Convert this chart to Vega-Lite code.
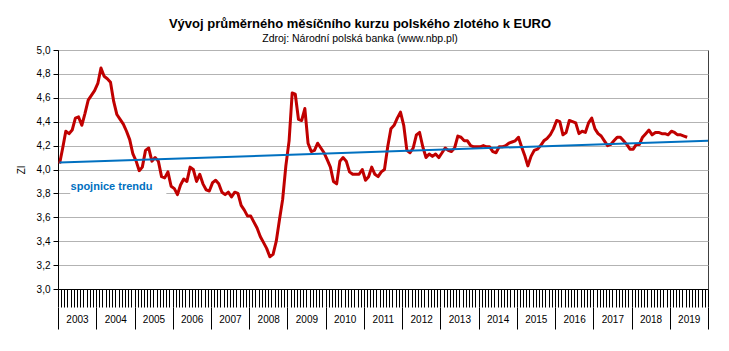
{
  "$schema": "https://vega.github.io/schema/vega-lite/v6.json",
  "width": 650,
  "height": 239,
  "autosize": {"type": "none"},
  "padding": {"left": 58, "top": 50, "right": 21, "bottom": 62},
  "background": "white",
  "title": {
    "text": "Vývoj průměrného měsíčního kurzu polského zlotého k EURO",
    "subtitle": "Zdroj: Národní polská banka (www.nbp.pl)",
    "font": "Liberation Sans", "fontSize": 13, "fontWeight": "bold", "color": "black",
    "subtitleFont": "Liberation Sans", "subtitleFontSize": 10.5, "subtitleColor": "black",
    "anchor": "middle", "frame": "group", "dx": -23, "offset": 1, "subtitlePadding": 3
  },
  "config": {
    "view": {"stroke": "#404040", "strokeWidth": 1},
    "axis": {"labelFont": "Liberation Sans", "titleFont": "Liberation Sans", "labelColor": "black", "titleColor": "black"}
  },
  "data": {
    "format": {"parse": {"mesic": "date"}},
    "values": [
      {"mesic": "2003-01", "kurz": 4.05}, {"mesic": "2003-02", "kurz": 4.18}, {"mesic": "2003-03", "kurz": 4.32}, {"mesic": "2003-04", "kurz": 4.30},
      {"mesic": "2003-05", "kurz": 4.33}, {"mesic": "2003-06", "kurz": 4.43}, {"mesic": "2003-07", "kurz": 4.44}, {"mesic": "2003-08", "kurz": 4.37},
      {"mesic": "2003-09", "kurz": 4.47}, {"mesic": "2003-10", "kurz": 4.58}, {"mesic": "2003-11", "kurz": 4.62}, {"mesic": "2003-12", "kurz": 4.66},
      {"mesic": "2004-01", "kurz": 4.72}, {"mesic": "2004-02", "kurz": 4.85}, {"mesic": "2004-03", "kurz": 4.78}, {"mesic": "2004-04", "kurz": 4.76},
      {"mesic": "2004-05", "kurz": 4.73}, {"mesic": "2004-06", "kurz": 4.57}, {"mesic": "2004-07", "kurz": 4.46}, {"mesic": "2004-08", "kurz": 4.42},
      {"mesic": "2004-09", "kurz": 4.38}, {"mesic": "2004-10", "kurz": 4.32}, {"mesic": "2004-11", "kurz": 4.25}, {"mesic": "2004-12", "kurz": 4.13},
      {"mesic": "2005-01", "kurz": 4.07}, {"mesic": "2005-02", "kurz": 3.99}, {"mesic": "2005-03", "kurz": 4.02}, {"mesic": "2005-04", "kurz": 4.16},
      {"mesic": "2005-05", "kurz": 4.18}, {"mesic": "2005-06", "kurz": 4.07}, {"mesic": "2005-07", "kurz": 4.10}, {"mesic": "2005-08", "kurz": 4.07},
      {"mesic": "2005-09", "kurz": 3.94}, {"mesic": "2005-10", "kurz": 3.93}, {"mesic": "2005-11", "kurz": 3.98}, {"mesic": "2005-12", "kurz": 3.86},
      {"mesic": "2006-01", "kurz": 3.84}, {"mesic": "2006-02", "kurz": 3.79}, {"mesic": "2006-03", "kurz": 3.87}, {"mesic": "2006-04", "kurz": 3.92},
      {"mesic": "2006-05", "kurz": 3.90}, {"mesic": "2006-06", "kurz": 4.02}, {"mesic": "2006-07", "kurz": 4.00}, {"mesic": "2006-08", "kurz": 3.90},
      {"mesic": "2006-09", "kurz": 3.96}, {"mesic": "2006-10", "kurz": 3.88}, {"mesic": "2006-11", "kurz": 3.83}, {"mesic": "2006-12", "kurz": 3.82},
      {"mesic": "2007-01", "kurz": 3.89}, {"mesic": "2007-02", "kurz": 3.91}, {"mesic": "2007-03", "kurz": 3.88}, {"mesic": "2007-04", "kurz": 3.81},
      {"mesic": "2007-05", "kurz": 3.79}, {"mesic": "2007-06", "kurz": 3.81}, {"mesic": "2007-07", "kurz": 3.77}, {"mesic": "2007-08", "kurz": 3.81},
      {"mesic": "2007-09", "kurz": 3.80}, {"mesic": "2007-10", "kurz": 3.70}, {"mesic": "2007-11", "kurz": 3.66}, {"mesic": "2007-12", "kurz": 3.61},
      {"mesic": "2008-01", "kurz": 3.61}, {"mesic": "2008-02", "kurz": 3.56}, {"mesic": "2008-03", "kurz": 3.51}, {"mesic": "2008-04", "kurz": 3.44},
      {"mesic": "2008-05", "kurz": 3.39}, {"mesic": "2008-06", "kurz": 3.34}, {"mesic": "2008-07", "kurz": 3.27}, {"mesic": "2008-08", "kurz": 3.29},
      {"mesic": "2008-09", "kurz": 3.40}, {"mesic": "2008-10", "kurz": 3.58}, {"mesic": "2008-11", "kurz": 3.75}, {"mesic": "2008-12", "kurz": 4.03},
      {"mesic": "2009-01", "kurz": 4.24}, {"mesic": "2009-02", "kurz": 4.64}, {"mesic": "2009-03", "kurz": 4.63}, {"mesic": "2009-04", "kurz": 4.42},
      {"mesic": "2009-05", "kurz": 4.41}, {"mesic": "2009-06", "kurz": 4.51}, {"mesic": "2009-07", "kurz": 4.22}, {"mesic": "2009-08", "kurz": 4.15},
      {"mesic": "2009-09", "kurz": 4.16}, {"mesic": "2009-10", "kurz": 4.22}, {"mesic": "2009-11", "kurz": 4.18}, {"mesic": "2009-12", "kurz": 4.14},
      {"mesic": "2010-01", "kurz": 4.08}, {"mesic": "2010-02", "kurz": 4.02}, {"mesic": "2010-03", "kurz": 3.90}, {"mesic": "2010-04", "kurz": 3.88},
      {"mesic": "2010-05", "kurz": 4.07}, {"mesic": "2010-06", "kurz": 4.10}, {"mesic": "2010-07", "kurz": 4.07}, {"mesic": "2010-08", "kurz": 3.98},
      {"mesic": "2010-09", "kurz": 3.96}, {"mesic": "2010-10", "kurz": 3.96}, {"mesic": "2010-11", "kurz": 3.96}, {"mesic": "2010-12", "kurz": 4.00},
      {"mesic": "2011-01", "kurz": 3.91}, {"mesic": "2011-02", "kurz": 3.94}, {"mesic": "2011-03", "kurz": 4.02}, {"mesic": "2011-04", "kurz": 3.96},
      {"mesic": "2011-05", "kurz": 3.94}, {"mesic": "2011-06", "kurz": 3.98}, {"mesic": "2011-07", "kurz": 4.00}, {"mesic": "2011-08", "kurz": 4.19},
      {"mesic": "2011-09", "kurz": 4.34}, {"mesic": "2011-10", "kurz": 4.37}, {"mesic": "2011-11", "kurz": 4.43}, {"mesic": "2011-12", "kurz": 4.48},
      {"mesic": "2012-01", "kurz": 4.37}, {"mesic": "2012-02", "kurz": 4.16}, {"mesic": "2012-03", "kurz": 4.14}, {"mesic": "2012-04", "kurz": 4.18},
      {"mesic": "2012-05", "kurz": 4.29}, {"mesic": "2012-06", "kurz": 4.31}, {"mesic": "2012-07", "kurz": 4.19}, {"mesic": "2012-08", "kurz": 4.10},
      {"mesic": "2012-09", "kurz": 4.13}, {"mesic": "2012-10", "kurz": 4.11}, {"mesic": "2012-11", "kurz": 4.13}, {"mesic": "2012-12", "kurz": 4.10},
      {"mesic": "2013-01", "kurz": 4.14}, {"mesic": "2013-02", "kurz": 4.18}, {"mesic": "2013-03", "kurz": 4.16}, {"mesic": "2013-04", "kurz": 4.15},
      {"mesic": "2013-05", "kurz": 4.18}, {"mesic": "2013-06", "kurz": 4.28}, {"mesic": "2013-07", "kurz": 4.27}, {"mesic": "2013-08", "kurz": 4.24},
      {"mesic": "2013-09", "kurz": 4.24}, {"mesic": "2013-10", "kurz": 4.20}, {"mesic": "2013-11", "kurz": 4.19}, {"mesic": "2013-12", "kurz": 4.19},
      {"mesic": "2014-01", "kurz": 4.19}, {"mesic": "2014-02", "kurz": 4.20}, {"mesic": "2014-03", "kurz": 4.19}, {"mesic": "2014-04", "kurz": 4.19},
      {"mesic": "2014-05", "kurz": 4.15}, {"mesic": "2014-06", "kurz": 4.14}, {"mesic": "2014-07", "kurz": 4.19}, {"mesic": "2014-08", "kurz": 4.19},
      {"mesic": "2014-09", "kurz": 4.20}, {"mesic": "2014-10", "kurz": 4.22}, {"mesic": "2014-11", "kurz": 4.23}, {"mesic": "2014-12", "kurz": 4.24},
      {"mesic": "2015-01", "kurz": 4.27}, {"mesic": "2015-02", "kurz": 4.19}, {"mesic": "2015-03", "kurz": 4.12}, {"mesic": "2015-04", "kurz": 4.03},
      {"mesic": "2015-05", "kurz": 4.11}, {"mesic": "2015-06", "kurz": 4.16}, {"mesic": "2015-07", "kurz": 4.17}, {"mesic": "2015-08", "kurz": 4.20},
      {"mesic": "2015-09", "kurz": 4.24}, {"mesic": "2015-10", "kurz": 4.26}, {"mesic": "2015-11", "kurz": 4.29}, {"mesic": "2015-12", "kurz": 4.34},
      {"mesic": "2016-01", "kurz": 4.41}, {"mesic": "2016-02", "kurz": 4.40}, {"mesic": "2016-03", "kurz": 4.29}, {"mesic": "2016-04", "kurz": 4.31},
      {"mesic": "2016-05", "kurz": 4.41}, {"mesic": "2016-06", "kurz": 4.40}, {"mesic": "2016-07", "kurz": 4.39}, {"mesic": "2016-08", "kurz": 4.30},
      {"mesic": "2016-09", "kurz": 4.32}, {"mesic": "2016-10", "kurz": 4.31}, {"mesic": "2016-11", "kurz": 4.39}, {"mesic": "2016-12", "kurz": 4.43},
      {"mesic": "2017-01", "kurz": 4.34}, {"mesic": "2017-02", "kurz": 4.30}, {"mesic": "2017-03", "kurz": 4.28}, {"mesic": "2017-04", "kurz": 4.24},
      {"mesic": "2017-05", "kurz": 4.20}, {"mesic": "2017-06", "kurz": 4.21}, {"mesic": "2017-07", "kurz": 4.24}, {"mesic": "2017-08", "kurz": 4.27},
      {"mesic": "2017-09", "kurz": 4.27}, {"mesic": "2017-10", "kurz": 4.24}, {"mesic": "2017-11", "kurz": 4.21}, {"mesic": "2017-12", "kurz": 4.17},
      {"mesic": "2018-01", "kurz": 4.17}, {"mesic": "2018-02", "kurz": 4.21}, {"mesic": "2018-03", "kurz": 4.21}, {"mesic": "2018-04", "kurz": 4.27},
      {"mesic": "2018-05", "kurz": 4.30}, {"mesic": "2018-06", "kurz": 4.33}, {"mesic": "2018-07", "kurz": 4.29}, {"mesic": "2018-08", "kurz": 4.31},
      {"mesic": "2018-09", "kurz": 4.31}, {"mesic": "2018-10", "kurz": 4.30}, {"mesic": "2018-11", "kurz": 4.30}, {"mesic": "2018-12", "kurz": 4.29},
      {"mesic": "2019-01", "kurz": 4.32}, {"mesic": "2019-02", "kurz": 4.31}, {"mesic": "2019-03", "kurz": 4.29}, {"mesic": "2019-04", "kurz": 4.29},
      {"mesic": "2019-05", "kurz": 4.28}, {"mesic": "2019-06", "kurz": 4.27}
    ]
  },
  "resolve": {"axis": {"x": "independent"}},
  "layer": [
    {
      "data": {"values": [{}]},
      "mark": {"type": "rect", "color": "white"},
      "encoding": {
        "x": {"datum": {"year": 2003, "month": 4, "date": 28}, "type": "temporal",
              "scale": {"domain": [{"year": 2003, "month": 1, "date": 1}, {"year": 2020, "month": 1, "date": 1}], "nice": false},
              "axis": null},
        "x2": {"datum": {"year": 2005, "month": 11, "date": 1}},
        "y": {"datum": 3.92, "type": "quantitative", "scale": {"domain": [3, 5], "nice": false, "zero": false},
              "axis": {"title": "Zl", "values": [3, 3.2, 3.4, 3.6, 3.8, 4, 4.2, 4.4, 4.6, 4.8, 5],
                   "labelExpr": "replace(format(datum.value, '.1f'), '.', ',')", "labelOverlap": false,
                   "grid": true, "gridColor": "#b3b3b3", "gridWidth": 1,
                   "tickSize": 5, "tickColor": "black", "domainColor": "black",
                   "labelFontSize": 10, "labelPadding": 3,
                   "titleFontSize": 10, "titleFontWeight": "normal", "titlePadding": 10}},
        "y2": {"datum": 3.78}
      }
    },
    {
      "mark": {"type": "line", "color": "#C00000", "strokeWidth": 3, "strokeJoin": "round"},
      "encoding": {
        "x": {
          "field": "mesic", "type": "temporal", "timeUnit": "yearmonth", "bandPosition": 0.5,
          "scale": {"domain": [{"year": 2003, "month": 1, "date": 1}, {"year": 2020, "month": 1, "date": 1}], "nice": false},
          "axis": {"orient": "bottom", "title": null, "labels": false, "grid": false, "tickCount": {"interval": "month", "step": 1},
                   "tickSize": 18, "tickColor": "black", "tickWidth": 1, "domainColor": "black", "domainWidth": 1}
        },
        "y": {
          "field": "kurz", "type": "quantitative",
          "scale": {"domain": [3, 5], "nice": false, "zero": false},
          "axis": {"title": "Zl", "values": [3, 3.2, 3.4, 3.6, 3.8, 4, 4.2, 4.4, 4.6, 4.8, 5],
                   "labelExpr": "replace(format(datum.value, '.1f'), '.', ',')", "labelOverlap": false,
                   "grid": true, "gridColor": "#b3b3b3", "gridWidth": 1,
                   "tickSize": 5, "tickColor": "black", "domainColor": "black",
                   "labelFontSize": 10, "labelPadding": 3,
                   "titleFontSize": 10, "titleFontWeight": "normal", "titlePadding": 10}
        }
      }
    },
    {
      "transform": [{"regression": "kurz", "on": "mesic", "extent": [1042588800000, 1577836800000]}],
      "mark": {"type": "line", "color": "#0070C0", "strokeWidth": 2},
      "encoding": {
        "x": {
          "field": "mesic", "type": "temporal",
          "scale": {"domain": [{"year": 2003, "month": 1, "date": 1}, {"year": 2020, "month": 1, "date": 1}], "nice": false},
          "axis": {"orient": "bottom", "title": null, "labels": false, "grid": false, "domain": false,
                   "values": [{"year": 2003, "month": 1, "date": 1}, {"year": 2004, "month": 1, "date": 1}, {"year": 2005, "month": 1, "date": 1},
                              {"year": 2006, "month": 1, "date": 1}, {"year": 2007, "month": 1, "date": 1}, {"year": 2008, "month": 1, "date": 1},
                              {"year": 2009, "month": 1, "date": 1}, {"year": 2010, "month": 1, "date": 1}, {"year": 2011, "month": 1, "date": 1},
                              {"year": 2012, "month": 1, "date": 1}, {"year": 2013, "month": 1, "date": 1}, {"year": 2014, "month": 1, "date": 1},
                              {"year": 2015, "month": 1, "date": 1}, {"year": 2016, "month": 1, "date": 1}, {"year": 2017, "month": 1, "date": 1},
                              {"year": 2018, "month": 1, "date": 1}, {"year": 2019, "month": 1, "date": 1}, {"year": 2020, "month": 1, "date": 1}],
                   "offset": 18, "tickSize": 22, "tickColor": "black", "tickWidth": 1}
        },
        "y": {"field": "kurz", "type": "quantitative", "scale": {"domain": [3, 5], "nice": false, "zero": false},
              "axis": {"title": "Zl", "values": [3, 3.2, 3.4, 3.6, 3.8, 4, 4.2, 4.4, 4.6, 4.8, 5],
                   "labelExpr": "replace(format(datum.value, '.1f'), '.', ',')", "labelOverlap": false,
                   "grid": true, "gridColor": "#b3b3b3", "gridWidth": 1,
                   "tickSize": 5, "tickColor": "black", "domainColor": "black",
                   "labelFontSize": 10, "labelPadding": 3,
                   "titleFontSize": 10, "titleFontWeight": "normal", "titlePadding": 10}}
      }
    },
    {
      "data": {"values": [{}]},
      "mark": {"type": "text", "text": "spojnice trendu", "color": "#0070C0", "fontWeight": "bold", "fontSize": 11,
               "font": "Liberation Sans", "align": "left", "baseline": "middle"},
      "encoding": {
        "x": {
          "datum": {"year": 2003, "month": 5, "date": 1}, "type": "temporal",
          "scale": {"domain": [{"year": 2003, "month": 1, "date": 1}, {"year": 2020, "month": 1, "date": 1}], "nice": false},
          "axis": {"orient": "bottom", "title": null, "grid": false, "domain": false, "ticks": false, "format": "%Y",
                   "values": [{"year": 2003, "month": 7, "date": 1}, {"year": 2004, "month": 7, "date": 1}, {"year": 2005, "month": 7, "date": 1},
                              {"year": 2006, "month": 7, "date": 1}, {"year": 2007, "month": 7, "date": 1}, {"year": 2008, "month": 7, "date": 1},
                              {"year": 2009, "month": 7, "date": 1}, {"year": 2010, "month": 7, "date": 1}, {"year": 2011, "month": 7, "date": 1},
                              {"year": 2012, "month": 7, "date": 1}, {"year": 2013, "month": 7, "date": 1}, {"year": 2014, "month": 7, "date": 1},
                              {"year": 2015, "month": 7, "date": 1}, {"year": 2016, "month": 7, "date": 1}, {"year": 2017, "month": 7, "date": 1},
                              {"year": 2018, "month": 7, "date": 1}, {"year": 2019, "month": 7, "date": 1}],
                   "offset": 18, "labelPadding": 7, "labelFontSize": 10, "labelOverlap": false}
        },
        "y": {"datum": 3.853, "type": "quantitative", "scale": {"domain": [3, 5], "nice": false, "zero": false},
              "axis": {"title": "Zl", "values": [3, 3.2, 3.4, 3.6, 3.8, 4, 4.2, 4.4, 4.6, 4.8, 5],
                   "labelExpr": "replace(format(datum.value, '.1f'), '.', ',')", "labelOverlap": false,
                   "grid": true, "gridColor": "#b3b3b3", "gridWidth": 1,
                   "tickSize": 5, "tickColor": "black", "domainColor": "black",
                   "labelFontSize": 10, "labelPadding": 3,
                   "titleFontSize": 10, "titleFontWeight": "normal", "titlePadding": 10}}
      }
    }
  ]
}
